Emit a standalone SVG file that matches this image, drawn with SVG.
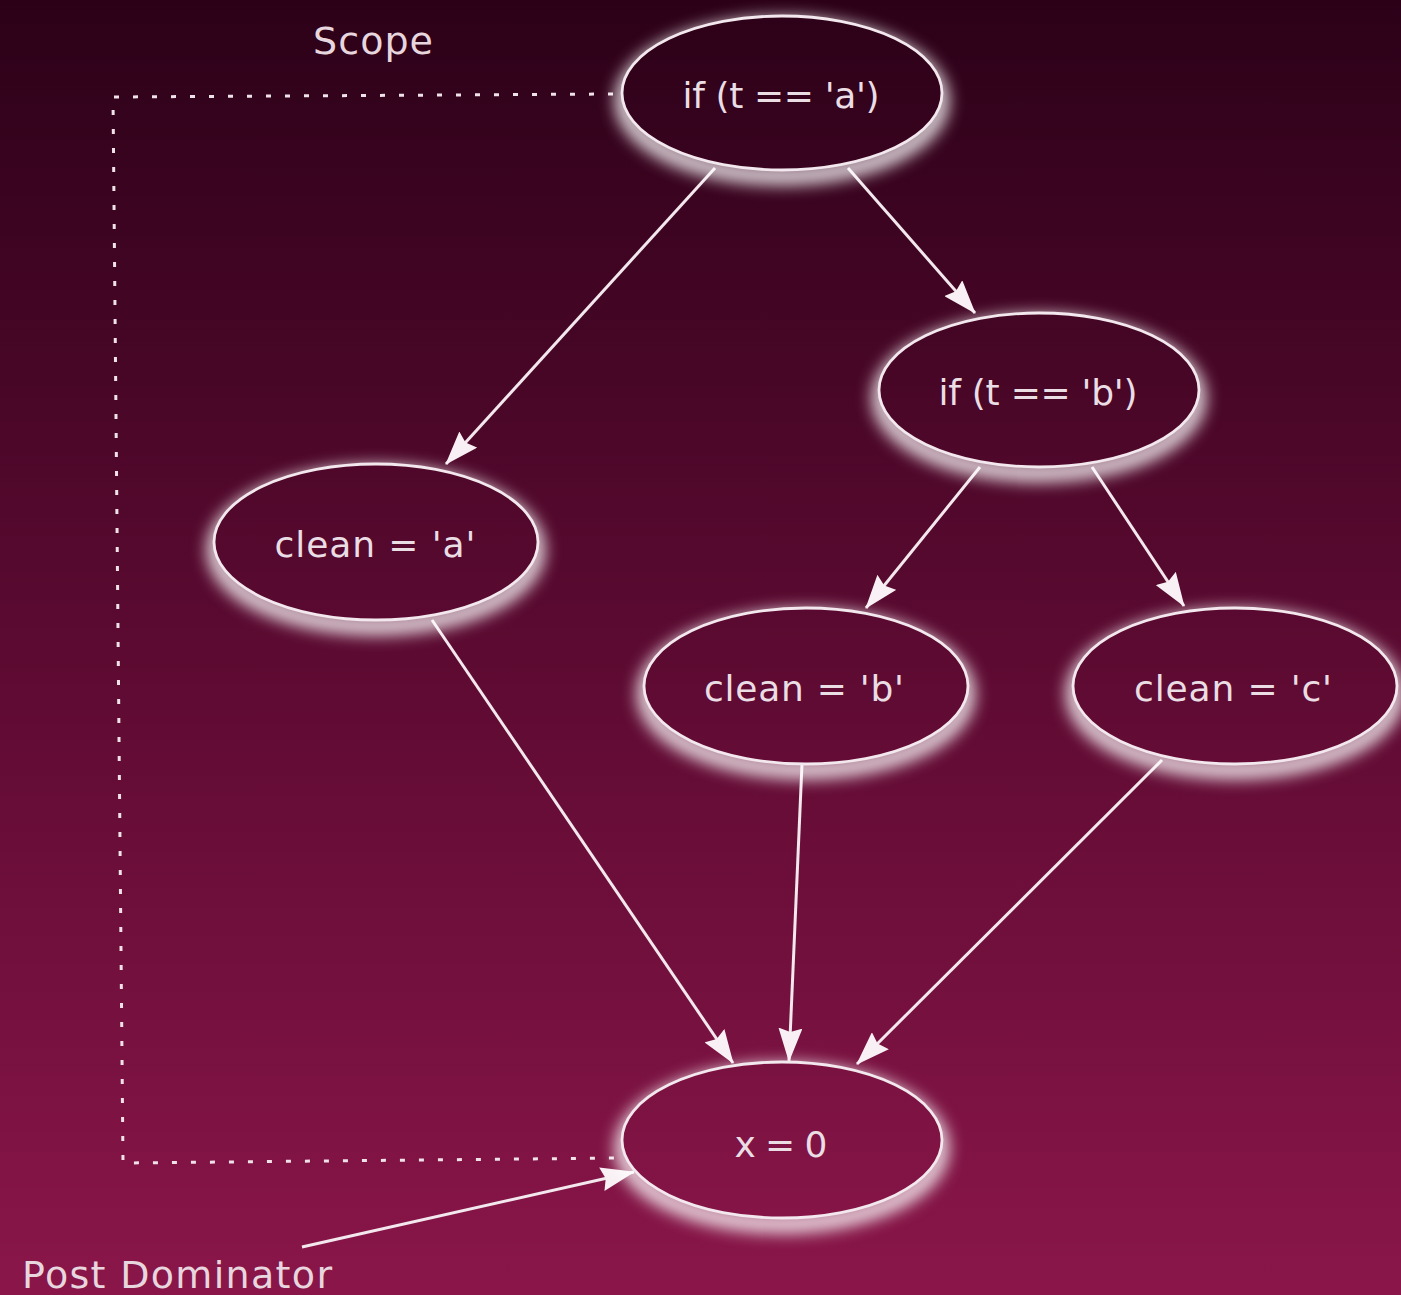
<svg xmlns="http://www.w3.org/2000/svg" width="1401" height="1295" viewBox="0 0 1401 1295">
  <defs>
    <linearGradient id="bg" gradientUnits="userSpaceOnUse" x1="0" y1="0" x2="0" y2="1295">
      <stop offset="0" stop-color="#2c0118"/>
      <stop offset="0.5" stop-color="#5c0a31"/>
      <stop offset="1" stop-color="#8a1649"/>
    </linearGradient>
    <filter id="glow" x="-30%" y="-40%" width="160%" height="190%">
      <feGaussianBlur stdDeviation="8"/>
    </filter>
    <filter id="soft" x="-5%" y="-5%" width="110%" height="110%">
      <feGaussianBlur stdDeviation="0.6"/>
    </filter>
    <marker id="arrow" markerUnits="userSpaceOnUse" viewBox="0 0 34 24" refX="33" refY="12" markerWidth="34" markerHeight="24" orient="auto">
      <path d="M0,0 L34,12 L0,24 L4,12 z" fill="#f8f0f4"/>
    </marker>
    <style>
      .halo { fill: none; stroke: #ffffff; stroke-width: 18; opacity: 0.85; filter: url(#glow); }
      .node { fill: url(#bg); stroke: #f3e8ee; stroke-width: 2.8; }
      .label { font-family: "DejaVu Sans", "Liberation Sans", sans-serif; font-size: 36px; fill: #eadde4; text-anchor: middle; }
      .note { font-family: "DejaVu Sans", "Liberation Sans", sans-serif; font-size: 38px; fill: #e8d6df; }
      .edge { fill: none; stroke: #f3e8ee; stroke-width: 3; marker-end: url(#arrow); }
      .scope { fill: none; stroke: #f0e2e9; stroke-width: 3; stroke-dasharray: 5 14; }
    </style>
  </defs>

  <rect x="0" y="0" width="1401" height="1295" fill="url(#bg)"/>

  <!-- scope bracket around the region dominated by the first test -->
  <g id="scope-box" filter="url(#soft)">
    <path class="scope" d="M613,94 L113,97 L123,1163 L620,1158"/>
  </g>

  <!-- control-flow edges -->
  <g id="connectors">
    <line class="edge" x1="715" y1="168" x2="446" y2="464"/>
    <line class="edge" x1="848" y1="168" x2="975" y2="313"/>
    <line class="edge" x1="980" y1="467" x2="866" y2="608"/>
    <line class="edge" x1="1092" y1="467" x2="1184" y2="606"/>
    <line class="edge" x1="432" y1="620" x2="733" y2="1063"/>
    <line class="edge" x1="802" y1="764" x2="789" y2="1061"/>
    <line class="edge" x1="1162" y1="760" x2="857" y2="1064"/>
    <line class="edge" x1="302" y1="1247" x2="634" y2="1172"/>
  </g>

  <g id="node-if-a">
    <ellipse class="halo" cx="782" cy="101" rx="158" ry="75"/>
    <ellipse class="node" cx="782" cy="93" rx="160" ry="77"/>
    <text class="label" x="781" y="108" textLength="197">if (t == 'a')</text>
  </g>

  <g id="node-if-b">
    <ellipse class="halo" cx="1039" cy="398" rx="158" ry="75"/>
    <ellipse class="node" cx="1039" cy="390" rx="160" ry="77"/>
    <text class="label" x="1038" y="405" textLength="199">if (t == 'b')</text>
  </g>

  <g id="node-clean-a">
    <ellipse class="halo" cx="376" cy="550" rx="160" ry="76"/>
    <ellipse class="node" cx="376" cy="542" rx="162" ry="78"/>
    <text class="label" x="375" y="557" textLength="201">clean = 'a'</text>
  </g>

  <g id="node-clean-b">
    <ellipse class="halo" cx="806" cy="694" rx="160" ry="76"/>
    <ellipse class="node" cx="806" cy="686" rx="162" ry="78"/>
    <text class="label" x="804" y="701" textLength="200">clean = 'b'</text>
  </g>

  <g id="node-clean-c">
    <ellipse class="halo" cx="1235" cy="694" rx="160" ry="76"/>
    <ellipse class="node" cx="1235" cy="686" rx="162" ry="78"/>
    <text class="label" x="1233" y="701" textLength="198">clean = 'c'</text>
  </g>

  <g id="node-x0">
    <ellipse class="halo" cx="782" cy="1148" rx="158" ry="76"/>
    <ellipse class="node" cx="782" cy="1140" rx="160" ry="78"/>
    <text class="label" x="781" y="1157" textLength="93">x = 0</text>
  </g>

  <g id="annotations">
    <text class="note" x="313" y="54" textLength="120">Scope</text>
    <text class="note" x="22" y="1288" textLength="310">Post Dominator</text>
  </g>
</svg>
